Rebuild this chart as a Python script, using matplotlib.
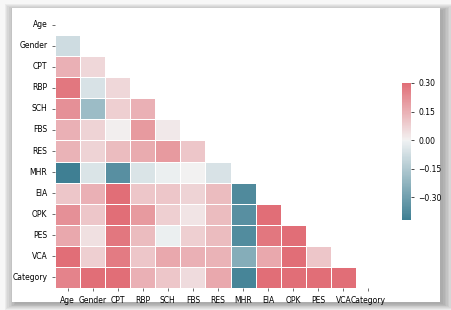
import numpy as np
import pandas as pd
import matplotlib
matplotlib.use("Agg")
import matplotlib.pyplot as plt
import seaborn as sns
from matplotlib.patches import Rectangle

labels = ['Age', 'Gender', 'CPT', 'RBP', 'SCH', 'FBS', 'RES', 'MHR',
          'EIA', 'OPK', 'PES', 'VCA', 'Category']

# lower triangle, one list per row (cells left of the diagonal)
r_gender = [-0.08]
r_cpt = [0.15, 0.06]
r_rbp = [0.28, -0.06, 0.06]
r_sch = [0.22, -0.20, 0.08, 0.15]
r_fbs = [0.15, 0.07, 0.01, 0.20, 0.02]
r_res = [0.14, 0.07, 0.12, 0.16, 0.20, 0.10]
r_mhr = [-0.42, -0.05, -0.36, -0.05, -0.01, 0.00, -0.06]
r_eia = [0.10, 0.15, 0.35, 0.10, 0.10, 0.07, 0.12, -0.38]
r_opk = [0.22, 0.10, 0.35, 0.20, 0.08, 0.03, 0.12, -0.36, 0.31]
r_pes = [0.17, 0.04, 0.28, 0.12, -0.01, 0.08, 0.12, -0.37, 0.28, 0.32]
r_vca = [0.30, 0.08, 0.27, 0.10, 0.17, 0.15, 0.14, -0.25, 0.17, 0.30, 0.10]
r_cat = [0.25, 0.30, 0.33, 0.15, 0.10, 0.05, 0.17, -0.40, 0.33, 0.33, 0.31, 0.32]

rows = [[], r_gender, r_cpt, r_rbp, r_sch, r_fbs, r_res, r_mhr,
        r_eia, r_opk, r_pes, r_vca, r_cat]

n = len(labels)
corr = np.eye(n)
for i, r in enumerate(rows):
    for j, v in enumerate(r):
        corr[i, j] = v
        corr[j, i] = v
corr = pd.DataFrame(corr, index=labels, columns=labels)
mask = np.triu(np.ones_like(corr, dtype=bool))

W, H = 451, 310
fig = plt.figure(figsize=(W / 100, H / 100), dpi=100)
fig.patch.set_facecolor('#f7f7f7')

# drop shadow behind the white panel
for k in range(8):
    fig.add_artist(Rectangle(((12 - 1.5 * k + 3) / W, (8 - 0.8 * k - 2) / H),
                             (428 + 3 * k) / W, (294 + 1.6 * k) / H,
                             transform=fig.transFigure, facecolor='#555555',
                             edgecolor='none', alpha=0.07, zorder=-10))
fig.add_artist(Rectangle((12 / W, 8 / H), 428 / W, 294 / H,
                         transform=fig.transFigure, facecolor='white',
                         edgecolor='none', zorder=-5))

ax = fig.add_axes([55 / W, 22 / H, 326 / W, 274 / H])
cax = fig.add_axes([402 / W, 90 / H, 9 / W, 137 / H])

cmap = sns.diverging_palette(220, 10, as_cmap=True)
sns.heatmap(corr, mask=mask, cmap=cmap, vmax=.3, center=0, linewidths=.5,
            ax=ax, cbar_ax=cax, cbar_kws={'ticks': [0.3, 0.15, 0.0, -0.15, -0.3]})

ax.tick_params(axis='both', labelsize=5.5, length=2, width=0.5, color='#333333')
ax.set_xticklabels(labels, rotation=0)
ax.set_yticklabels(labels, rotation=0)
cax.tick_params(labelsize=5.5, length=2, width=0.5)
cax.set_yticklabels(['0.30', '0.15', '0.00', '\u22120.15', '\u22120.30'])

plt.savefig('out.png', dpi=100, facecolor=fig.get_facecolor())
